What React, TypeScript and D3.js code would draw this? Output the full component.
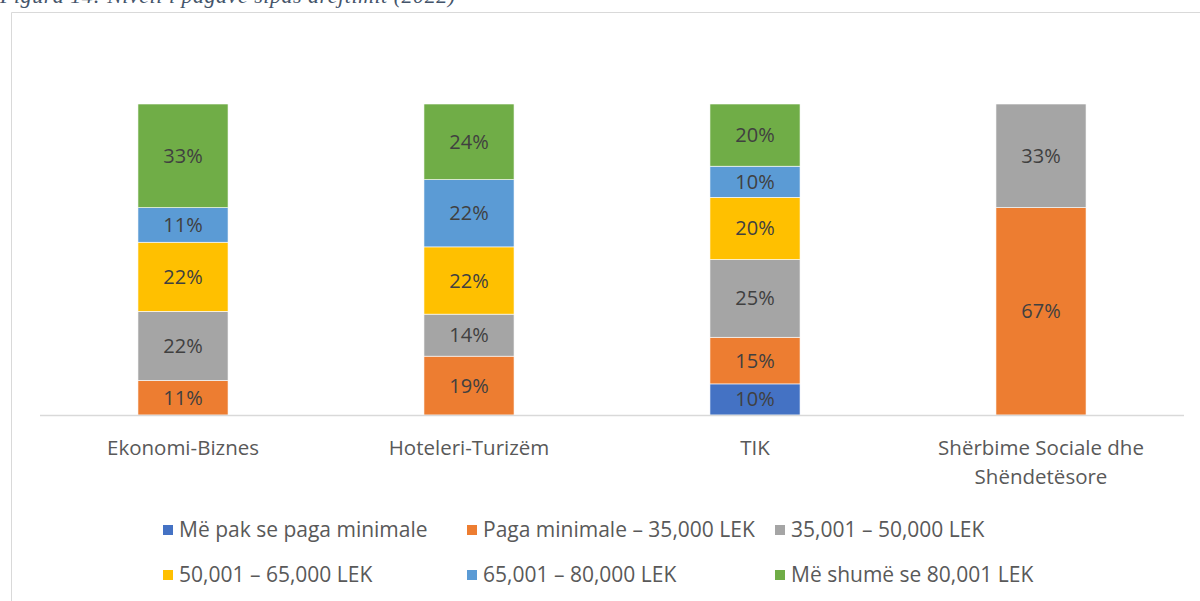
import React, { useEffect, useRef } from "react";
import * as d3 from "d3";

// Data (shares in %, labels shown rounded)
const categories = [
  ["Ekonomi-Biznes"],
  ["Hoteleri-Turizëm"],
  ["TIK"],
  ["Shërbime Sociale dhe", "Shëndetësore"],
];
const seriesNames = [
  "Më pak se paga minimale",
  "Paga minimale – 35,000 LEK",
  "35,001 – 50,000 LEK",
  "50,001 – 65,000 LEK",
  "65,001 – 80,000 LEK",
  "Më shumë se 80,001 LEK",
];
const seriesColors = ["#4472C4", "#ED7D31", "#A5A5A5", "#FFC000", "#5B9BD5", "#70AD47"];

const lessThanMin = [0, 0, 10, 0];
const minTo35k = [11.1, 18.9, 15, 66.7];
const from35to50k = [22.2, 13.5, 25, 33.3];
const from50to65k = [22.2, 21.6, 20, 0];
const from65to80k = [11.1, 21.6, 10, 0];
const over80k = [33.3, 24.3, 20, 0];

const caption = "Figura 14: Niveli i pagave sipas drejtimit (2022)";

const W = 1200;
const H = 601;
const MARGIN = { top: 104, right: 16, bottom: 186, left: 40 };
const FONT = "'Open Sans', 'Noto Sans', sans-serif";

export default function App() {
  const svgRef = useRef<SVGSVGElement>(null);

  useEffect(() => {
    const svg = d3.select(svgRef.current);
    svg.selectAll("*").remove();

    const allSeries = [lessThanMin, minTo35k, from35to50k, from50to65k, from65to80k, over80k];
    const rows = categories.map((c, i) => {
      const row: any = { key: c.join(" ") };
      allSeries.forEach((s, j) => (row[j] = s[i]));
      return row;
    });

    const chartW = W - MARGIN.left - MARGIN.right;
    const chartH = H - MARGIN.top - MARGIN.bottom;

    const x = d3
      .scaleBand()
      .domain(rows.map((r) => r.key))
      .range([0, chartW])
      .paddingInner(0.685)
      .paddingOuter(0.3425);
    const y = d3.scaleLinear().domain([0, 1]).range([chartH, 0]);

    const stack = d3
      .stack()
      .keys(seriesNames.map((_, j) => String(j)))
      .offset(d3.stackOffsetExpand);
    const stacked = stack(rows);

    // caption (partly cropped by page top)
    svg
      .append("text")
      .attr("x", 0)
      .attr("y", 3)
      .attr("textLength", 455)
      .style("font-family", "'Liberation Serif', serif")
      .style("font-style", "italic")
      .style("font-size", "22px")
      .style("fill", "#44546A")
      .text(caption);

    // chart frame
    svg
      .append("path")
      .attr("d", `M11.5,${H} V12.5 H${W}`)
      .attr("fill", "none")
      .attr("stroke", "#D9D9D9")
      .attr("stroke-width", 1);

    const g = svg.append("g").attr("transform", `translate(${MARGIN.left},${MARGIN.top})`);

    // bars
    const layers = g
      .selectAll("g.layer")
      .data(stacked)
      .join("g")
      .attr("fill", (d, i) => seriesColors[i]);

    layers
      .selectAll("rect")
      .data((d) => d.map((v) => ({ v, key: (v as any).data.key })))
      .join("rect")
      .filter((d) => d.v[1] - d.v[0] > 0)
      .attr("x", (d) => x(d.key)!)
      .attr("width", x.bandwidth())
      .attr("y", (d) => y(d.v[1]))
      .attr("height", (d) => y(d.v[0]) - y(d.v[1]))
      .attr("stroke", "#fff")
      .attr("stroke-width", 0.6);

    // data labels
    stacked.forEach((layer, i) => {
      layer.forEach((v, ci) => {
        const val = allSeries[i][ci];
        if (!val) return;
        g.append("text")
          .attr("x", x((v as any).data.key)! + x.bandwidth() / 2)
          .attr("y", (y(v[0]) + y(v[1])) / 2)
          .attr("dy", "0.35em")
          .attr("text-anchor", "middle")
          .style("font-family", FONT)
          .style("font-size", "20px")
          .style("fill", "#404040")
          .text(`${Math.round(val)}%`);
      });
    });

    // axis line
    g.append("line")
      .attr("x1", 0)
      .attr("x2", chartW)
      .attr("y1", chartH + 0.5)
      .attr("y2", chartH + 0.5)
      .attr("stroke", "#D9D9D9")
      .attr("stroke-width", 1.5);

    // category labels
    categories.forEach((lines, i) => {
      const cx = x(rows[i].key)! + x.bandwidth() / 2;
      lines.forEach((ln, k) => {
        g.append("text")
          .attr("x", cx)
          .attr("y", chartH + 40 + k * 29)
          .attr("text-anchor", "middle")
          .style("font-family", FONT)
          .style("font-size", "20.5px")
          .style("fill", "#595959")
          .text(ln);
      });
    });

    // legend
    const colX = [163, 467, 775];
    const rowY = [530, 575];
    seriesNames.forEach((name, i) => {
      const lx = colX[i % 3];
      const ly = rowY[Math.floor(i / 3)];
      svg
        .append("rect")
        .attr("x", lx)
        .attr("y", ly - 5)
        .attr("width", 10)
        .attr("height", 10)
        .attr("fill", seriesColors[i]);
      svg
        .append("text")
        .attr("x", lx + 16)
        .attr("y", ly)
        .attr("dy", "0.35em")
        .style("font-family", FONT)
        .style("font-size", "21px")
        .style("fill", "#595959")
        .text(name);
    });
  }, []);

  return (
    <svg
      ref={svgRef}
      width={W}
      height={H}
      style={{ position: "absolute", left: 0, top: 0, background: "#fff" }}
    />
  );
}
